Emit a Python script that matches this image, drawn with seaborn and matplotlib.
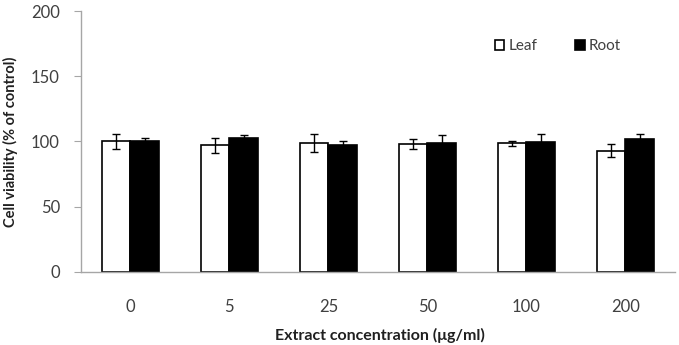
import pandas as pd
import seaborn as sns
import matplotlib.pyplot as plt

# Values
concentrations = ['0', '5', '25', '50', '100', '200']
leaf_mean = [100, 97, 99, 98, 98.5, 93]
leaf_err = [5.5, 6, 7, 3.5, 2, 5]
root_mean = [100, 102.5, 97.5, 98.5, 99.5, 102]
root_err = [2.5, 2.5, 2.5, 6.5, 6.5, 3.5]

df = pd.DataFrame({
    'Concentration': concentrations * 2,
    'Viability': leaf_mean + root_mean,
    'Extract': ['Leaf'] * 6 + ['Root'] * 6,
})

sns.set_style('white')
plt.rcParams['font.family'] = ['Lato', 'DejaVu Sans']

fig = plt.figure(figsize=(6.79, 3.45), dpi=100)
ax = fig.add_axes([0.119, 0.212, 0.875, 0.756])

sns.barplot(data=df, x='Concentration', y='Viability', hue='Extract',
            order=concentrations, hue_order=['Leaf', 'Root'],
            palette={'Leaf': 'white', 'Root': 'black'},
            edgecolor='black', linewidth=1.2, width=0.58, errorbar=None,
            ax=ax)

# Error bars on top of each bar
for container, errs in zip(ax.containers, [leaf_err, root_err]):
    xs = [p.get_x() + p.get_width() / 2 for p in container]
    ys = [p.get_height() for p in container]
    ax.errorbar(xs, ys, yerr=errs, fmt='none', ecolor='black',
                elinewidth=1.0, capsize=3, capthick=1.0, zorder=5)

ax.set_ylim(0, 200)
ax.set_xlim(-0.5, 5.5)
ax.set_yticks([0, 50, 100, 150, 200])

for side in ['top', 'right']:
    ax.spines[side].set_visible(False)
for side in ['left', 'bottom']:
    ax.spines[side].set_color('#a6a6a6')
    ax.spines[side].set_linewidth(1.0)

ax.tick_params(axis='y', left=True, length=5, color='#a6a6a6',
               labelsize=12, labelcolor='#404040', pad=10)
ax.tick_params(axis='x', bottom=False, labelsize=12,
               labelcolor='#404040', pad=16)

ax.set_ylabel('Cell viability (% of control)', fontsize=10.5,
              fontweight='bold', color='#202020', va='center')
ax.yaxis.set_label_coords(-0.119, 0.5)
ax.set_xlabel('Extract concentration (μg/ml)', fontsize=11.5,
              fontweight='bold', color='#202020', va='center')
ax.xaxis.set_label_coords(0.503, -0.245)

ax.legend(loc='center', bbox_to_anchor=(0.803, 0.866), ncol=2, frameon=False,
          fontsize=11, handlelength=0.65, handleheight=0.65,
          handletextpad=0.3, columnspacing=2.4, labelcolor='#404040')

fig.savefig('out.png', dpi=100)
